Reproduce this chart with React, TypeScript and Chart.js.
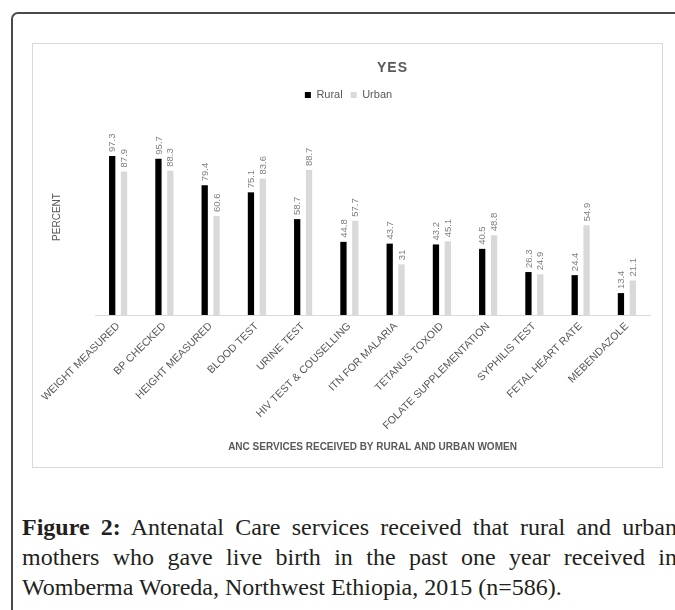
import React, { useEffect, useRef } from 'react';
import { Chart, registerables } from 'chart.js';

Chart.register(...registerables);

const categories = [
  'WEIGHT MEASURED',
  'BP CHECKED',
  'HEIGHT MEASURED',
  'BLOOD TEST',
  'URINE TEST',
  'HIV TEST & COUSELLING',
  'ITN FOR MALARIA',
  'TETANUS TOXOID',
  'FOLATE SUPPLEMENTATION',
  'SYPHILIS TEST',
  'FETAL HEART RATE',
  'MEBENDAZOLE',
];
const ruralValues = [97.3, 95.7, 79.4, 75.1, 58.7, 44.8, 43.7, 43.2, 40.5, 26.3, 24.4, 13.4];
const urbanValues = [87.9, 88.3, 60.6, 83.6, 88.7, 57.7, 31, 45.1, 48.8, 24.9, 54.9, 21.1];
const seriesNames = ['Rural', 'Urban'];
const chartTitle = 'YES';
const yAxisTitle = 'PERCENT';
const xAxisTitle = 'ANC SERVICES RECEIVED BY RURAL AND URBAN WOMEN';
const yMin = 0;
const yMax = 120;

const SANS = '"Liberation Sans", Arial, sans-serif';
const TEXT_GRAY = '#595959';

const valueLabelPlugin = {
  id: 'valueLabels',
  afterDatasetsDraw(chart: any) {
    const ctx = chart.ctx;
    ctx.save();
    ctx.font = `9.5px ${SANS}`;
    ctx.fillStyle = '#808080';
    chart.data.datasets.forEach((ds: any, di: number) => {
      const meta = chart.getDatasetMeta(di);
      meta.data.forEach((bar: any, i: number) => {
        const v = ds.data[i];
        ctx.save();
        ctx.translate(bar.x + 0.5, bar.y - 4);
        ctx.rotate(-Math.PI / 2);
        ctx.textAlign = 'left';
        ctx.textBaseline = 'middle';
        ctx.fillText(String(v), 0, 0);
        ctx.restore();
      });
    });
    ctx.restore();
  },
};

const titlePlugin = {
  id: 'offsetTitle',
  afterDraw(chart: any) {
    const { ctx, chartArea } = chart;
    ctx.save();
    ctx.font = `bold 14px ${SANS}`;
    ctx.fillStyle = TEXT_GRAY;
    ctx.textAlign = 'center';
    ctx.textBaseline = 'middle';
    try {
      (ctx as any).letterSpacing = '1px';
    } catch (e) {}
    ctx.fillText(chartTitle, (chartArea.left + chartArea.right) / 2 + 20, 24);
    ctx.restore();
  },
};

const legendSpacerPlugin = {
  id: 'legendSpacer',
  beforeLayout(chart: any) {
    const legend = chart.legend;
    if (legend && !legend.__patched) {
      const orig = legend.fit;
      legend.fit = function () {
        orig.call(this);
        this.height += 8.5;
      };
      legend.__patched = true;
    }
  },
};

function BarChart() {
  const ref = useRef<HTMLCanvasElement | null>(null);
  useEffect(() => {
    if (!ref.current) return;
    Chart.defaults.font.family = SANS;
    const chart = new Chart(ref.current, {
      type: 'bar',
      data: {
        labels: categories,
        datasets: [
          {
            label: seriesNames[0],
            data: ruralValues,
            backgroundColor: '#000000',
            borderWidth: 0,
            categoryPercentage: 0.513,
            barPercentage: 0.53,
          },
          {
            label: seriesNames[1],
            data: urbanValues,
            backgroundColor: '#d9d9d9',
            borderWidth: 0,
            categoryPercentage: 0.513,
            barPercentage: 0.53,
          },
        ],
      },
      options: {
        responsive: false,
        animation: false,
        devicePixelRatio: 1,
        events: [],
        layout: { padding: { top: 37.5, left: 14, right: 12, bottom: 0 } },
        plugins: {
          title: { display: false },
          tooltip: { enabled: false },
          legend: {
            display: true,
            position: 'top',
            labels: {
              boxWidth: 6,
              boxHeight: 6,
              padding: 8,
              color: TEXT_GRAY,
              font: { size: 11, family: SANS },
            },
          },
        },
        scales: {
          x: {
            grid: { display: false, drawTicks: false },
            border: { display: true, color: '#d9d9d9', width: 1 },
            ticks: {
              autoSkip: false,
              minRotation: 45,
              maxRotation: 45,
              color: TEXT_GRAY,
              padding: 5,
              font: { size: 10.6, family: SANS },
            },
            title: {
              display: true,
              text: xAxisTitle,
              color: TEXT_GRAY,
              font: { size: 10, weight: 'bold', family: SANS },
              padding: { top: 0, bottom: 14 },
            },
            afterFit: (scale: any) => {
              scale.height = 152;
            },
          },
          y: {
            min: yMin,
            max: yMax,
            ticks: { display: false },
            grid: { display: false, drawTicks: false },
            border: { display: false },
            title: {
              display: true,
              text: yAxisTitle,
              color: TEXT_GRAY,
              font: { size: 10, family: SANS },
              padding: { top: 4, bottom: 32 },
            },
          },
        },
      },
      plugins: [valueLabelPlugin, titlePlugin, legendSpacerPlugin],
    } as any);
    return () => chart.destroy();
  }, []);
  return <canvas ref={ref} width={629} height={423} style={{ display: 'block', width: 629, height: 423 }} />;
}

export default function App() {
  const captionLine: React.CSSProperties = {
    textAlign: 'justify',
    textAlignLast: 'justify' as any,
  };
  return (
    <div
      style={{
        position: 'fixed',
        left: 0,
        top: 0,
        width: 675,
        height: 610,
        overflow: 'hidden',
        background: '#ffffff',
      }}
    >
      <div
        style={{
          position: 'absolute',
          left: 11,
          top: 12,
          width: 720,
          height: 720,
          border: '2px solid #4a4a4a',
          borderTopLeftRadius: 7,
          boxSizing: 'border-box',
        }}
      />
      <div
        style={{
          position: 'absolute',
          left: 32,
          top: 43,
          width: 631,
          height: 425,
          border: '1px solid #d9d9d9',
          boxSizing: 'border-box',
          background: '#ffffff',
        }}
      >
        <BarChart />
      </div>
      <div
        style={{
          position: 'absolute',
          left: 22,
          top: 512,
          width: 655,
          fontFamily: '"Liberation Serif", "Times New Roman", serif',
          fontSize: 24,
          lineHeight: '30px',
          color: '#231f20',
        }}
      >
        <div style={captionLine}>
          <b>Figure 2:</b> Antenatal Care services received that rural and urban
        </div>
        <div style={captionLine}>mothers who gave live birth in the past one year received in</div>
        <div>Womberma Woreda, Northwest Ethiopia, 2015 (n=586).</div>
      </div>
    </div>
  );
}
